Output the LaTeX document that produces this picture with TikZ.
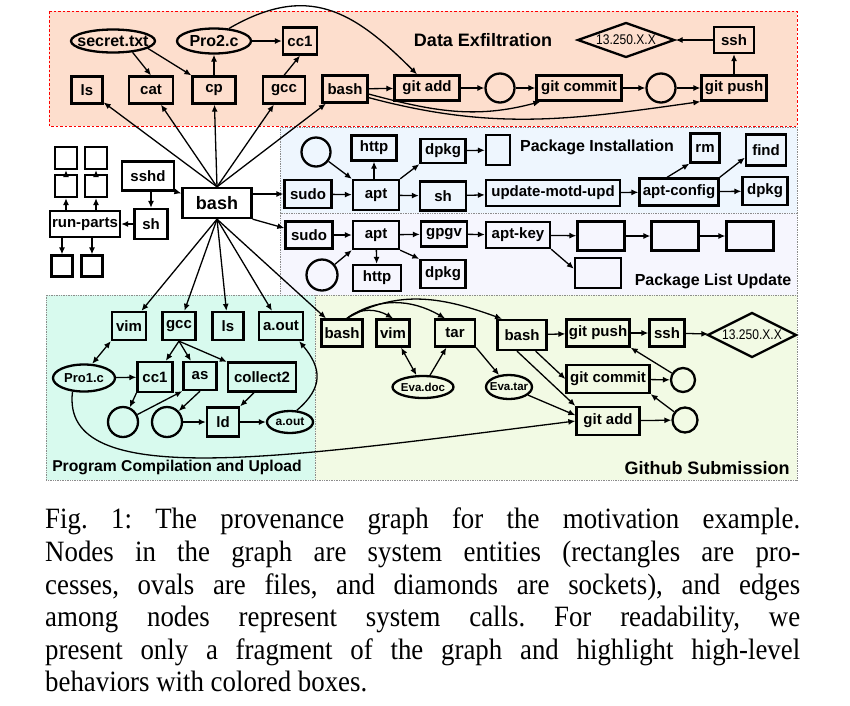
\documentclass[tikz,border=0pt]{standalone}
\usepackage{fontspec}
\setmainfont{Liberation Serif}
\newfontfamily\diagfont{Liberation Sans}
\newfontfamily\sockfont{Liberation Sans}[FakeStretch=0.86]
\newfontfamily\capfont{Liberation Serif}[FakeStretch=0.91]
\usetikzlibrary{arrows.meta,shapes.geometric}

\definecolor{exfilfill}{RGB}{253,222,205}
\definecolor{installfill}{RGB}{238,246,254}
\definecolor{updatefill}{RGB}{246,246,254}
\definecolor{compilefill}{RGB}{216,250,238}
\definecolor{githubfill}{RGB}{242,250,228}

\begin{document}
\begin{tikzpicture}[
		x=1pt, y=1pt,
		>=Latex,
		procbox/.style={
			draw,
			line width=2.3pt,
			inner sep=0pt,
			minimum width=40pt,
			minimum height=27pt,
			font=\diagfont\bfseries\fontsize{15}{15}\selectfont
		},
		filenode/.style={
			ellipse,
			draw,
			line width=2.3pt,
			inner sep=-30pt,
			font=\diagfont\bfseries\fontsize{13}{13}\selectfont
		},
		pipenode/.style={
			circle,
			draw,
			line width=2.3pt,
			minimum size=29pt,
			inner sep=0pt
		},
		socknode/.style={
			diamond,
			draw,
			line width=2.3pt,
			inner sep=-40pt,
			font=\sockfont\fontsize{14}{14}\selectfont
		},
		zonelabel/.style={
			inner sep=0pt,
			font=\diagfont\bfseries\fontsize{16}{16}\selectfont
		},
		zone/.style={
			draw=black!45,
			densely dotted,
			line width=0.7pt
		},
		link/.style={
			-{Latex[length=7pt,width=6pt]},
			line width=1.3pt
		},
		duplex/.style={
			{Latex[length=7pt,width=6pt]}-{Latex[length=7pt,width=6pt]},
			line width=1.3pt
		}
	]
		\useasboundingbox (0,0) rectangle (850,-705);

		% colored boxes
		\draw[red, dash pattern=on 2.5pt off 2pt, line width=0.9pt, fill=exfilfill] (49,-11) rectangle (797,-126);
		\draw[zone, fill=installfill] (280,-127) rectangle (797,-213);
		\draw[zone, fill=updatefill] (280,-213) rectangle (797,-295);
		\draw[zone, fill=compilefill] (46,-295) rectangle (315,-480);
		\draw[zone, fill=githubfill] (315,-295) rectangle (797,-480);

		\node[zonelabel, font=\diagfont\bfseries\fontsize{18}{18}\selectfont] (exfiltitle) at (483,-40) {Data Exfiltration};
		\node[zonelabel] (installtitle) at (597,-147) {Package Installation};
		\node[zonelabel] (updatetitle) at (713,-281) {Package List Update};
		\node[zonelabel, font=\diagfont\bfseries\fontsize{15.7}{16}\selectfont] (compiletitle) at (177,-467) {Program Compilation and Upload};
		\node[zonelabel, font=\diagfont\bfseries\fontsize{18}{18}\selectfont] (githubtitle) at (707,-468) {Github Submission};

		% data exfiltration
		\node[filenode, minimum width=84, minimum height=23, font=\diagfont\bfseries\fontsize{16}{16}\selectfont] (dsecret) at (113,-41) {secret.txt};
		\node[filenode, minimum width=74, minimum height=25, font=\diagfont\bfseries\fontsize{16}{16}\selectfont] (dpro) at (214,-41) {Pro2.c};
		\node[procbox, minimum width=34] (dcc) at (300,-41) {cc1};
		\node[procbox, minimum width=31] (dls) at (87,-90) {ls};
		\node[procbox, minimum width=44] (dcat) at (151,-90) {cat};
		\node[procbox, minimum width=43] (dcp) at (214,-90) {cp};
		\node[procbox, minimum width=42] (dgcc) at (284,-90) {gcc};
		\node[procbox, minimum width=45] (dbash) at (345,-89) {bash};
		\node[procbox, minimum width=65, minimum height=25] (dadd) at (427,-88) {git add};
		\node[pipenode] (dpipea) at (500,-88) {};
		\node[procbox, minimum width=85, minimum height=25] (dcommit) at (579,-88) {git commit};
		\node[pipenode] (dpipeb) at (661,-88) {};
		\node[procbox, minimum width=65, minimum height=25] (dpush) at (734,-88) {git push};
		\node[procbox, minimum width=40, minimum height=26] (dssh) at (734,-40) {ssh};
		\node[socknode, minimum width=97, minimum height=35] (dsock) at (626,-40) {13.250.X.X};

		% central process and its parents
		\node[procbox, minimum width=69, minimum height=30, font=\diagfont\bfseries\fontsize{18}{18}\selectfont] (bash) at (217,-203) {bash};
		\node[procbox, minimum width=52, minimum height=29] (sshd) at (148,-176) {sshd};
		\node[procbox, minimum width=33, minimum height=30] (sh) at (151,-224) {sh};
		\node[procbox, minimum width=70, minimum height=26] (runparts) at (85,-224) {run-parts};
		\node[procbox, minimum width=22, minimum height=22] (sqa) at (66,-158) {};
		\node[procbox, minimum width=22, minimum height=22] (sqb) at (96,-158) {};
		\node[procbox, minimum width=22, minimum height=22] (sqc) at (66,-186) {};
		\node[procbox, minimum width=22, minimum height=22] (sqd) at (96,-186) {};
		\node[procbox, minimum width=21, minimum height=21] (sqe) at (62,-266) {};
		\node[procbox, minimum width=21, minimum height=21] (sqf) at (92,-266) {};

		% package installation
		\node[pipenode] (icirc) at (316,-152) {};
		\node[procbox, minimum width=45, minimum height=25] (ihttp) at (374,-148) {http};
		\node[procbox, minimum width=45, minimum height=24] (idpkg) at (443,-151) {dpkg};
		\node[procbox, minimum width=24, minimum height=30] (iempty) at (498,-150) {};
		\node[procbox, minimum width=29, minimum height=29] (irm) at (705,-148) {rm};
		\node[procbox, minimum width=40, minimum height=31] (ifind) at (766,-150) {find};
		\node[procbox, minimum width=47, minimum height=28] (isudo) at (308,-194) {sudo};
		\node[procbox, minimum width=46, minimum height=30] (iapt) at (376,-195) {apt};
		\node[procbox, minimum width=46, minimum height=29] (ish) at (443,-196) {sh};
		\node[procbox, minimum width=134, minimum height=26] (imotd) at (553,-193) {update-motd-upd};
		\node[procbox, minimum width=79, minimum height=27] (iconfig) at (679,-192) {apt-config};
		\node[procbox, minimum width=45, minimum height=28] (idpkgb) at (765,-191) {dpkg};

		% package list update
		\node[procbox, minimum width=47] (lsudo) at (309,-235) {sudo};
		\node[procbox, minimum width=46, minimum height=28] (lapt) at (376,-235) {apt};
		\node[procbox, minimum width=46, minimum height=25] (lgpgv) at (444,-234) {gpgv};
		\node[procbox, minimum width=64, minimum height=26] (lkey) at (518,-235) {apt-key};
		\node[procbox, minimum width=47, minimum height=29] (lempa) at (601,-236) {};
		\node[procbox, minimum width=47, minimum height=29] (lempb) at (675,-236) {};
		\node[procbox, minimum width=47, minimum height=29] (lempc) at (750,-236) {};
		\node[procbox, minimum width=46, minimum height=30] (lempd) at (598,-273) {};
		\node[pipenode, minimum size=31] (lcirc) at (322,-275) {};
		\node[procbox, minimum width=48, minimum height=26] (lhttp) at (377,-278) {http};
		\node[procbox, minimum width=45, minimum height=28] (ldpkg) at (443,-274) {dpkg};

		% program compilation and upload
		\node[procbox, minimum width=34, minimum height=28] (pvim) at (129,-326) {vim};
		\node[procbox, minimum width=33, minimum height=28] (pgcc) at (179,-326) {gcc};
		\node[procbox, minimum width=31, minimum height=28] (pls) at (228,-326) {ls};
		\node[procbox, minimum width=44, minimum height=28] (paout) at (281,-326) {a.out};
		\node[filenode, minimum width=62, minimum height=27] (ppro) at (84,-378) {Pro1.c};
		\node[procbox, minimum width=35, minimum height=30] (pcc) at (155,-377) {cc1};
		\node[procbox, minimum width=33, minimum height=28] (pas) at (200,-376) {as};
		\node[procbox, minimum width=68, minimum height=29] (pcollect) at (262,-377) {collect2};
		\node[pipenode, minimum size=30] (pcirca) at (123,-422) {};
		\node[pipenode, minimum size=30] (pcircb) at (167,-422) {};
		\node[procbox, minimum width=32, minimum height=29] (pld) at (223,-422) {ld};
		\node[filenode, minimum width=46, minimum height=22, font=\diagfont\bfseries\fontsize{12}{12}\selectfont] (pfile) at (290,-422) {a.out};

		% github submission
		\node[procbox, minimum width=41] (gbash) at (342,-333) {bash};
		\node[procbox, minimum width=33] (gvim) at (393,-333) {vim};
		\node[procbox, minimum width=40] (gtar) at (455,-333) {tar};
		\node[procbox, minimum width=49, minimum height=30] (gbashb) at (522,-335) {bash};
		\node[procbox, minimum width=63] (gpush) at (598,-333) {git push};
		\node[procbox, minimum width=35] (gssh) at (667,-333) {ssh};
		\node[socknode, minimum width=89, minimum height=45] (gsock) at (752,-335) {13.250.X.X};
		\node[filenode, minimum width=61, minimum height=22, font=\diagfont\bfseries\fontsize{11.5}{12}\selectfont] (gdoc) at (423,-387) {Eva.doc};
		\node[filenode, minimum width=46, minimum height=24, font=\diagfont\bfseries\fontsize{11.5}{12}\selectfont] (gtarf) at (509,-387) {Eva.tar};
		\node[procbox, minimum width=83, minimum height=28] (gcommit) at (608,-379) {git commit};
		\node[pipenode, minimum size=24] (gcircc) at (683,-380) {};
		\node[procbox, minimum width=63, minimum height=28] (gadd) at (608,-421) {git add};
		\node[pipenode, minimum size=25] (gcirca) at (685,-420) {};

		% edges out of the central bash
		\foreach \n in {dls,dcat,dcp,dgcc,dbash}
			\draw[link] (bash.north) -- (\n);
		\foreach \n in {pvim,pgcc,pls,paout,gbash}
			\draw[link] (bash.south) -- (\n);
		\draw[link] (bash.east |- isudo) -- (isudo);
		\draw[link] (bash.south east) -- (lsudo);
		\draw[link] (sshd.south east) -- (bash);
		\draw[link] (sh |- sshd.south) -- (sh);
		\draw[link] (sh) -- (runparts);
		\foreach \n in {sqc,sqd}
			\draw[link] (\n |- runparts.north) -- (\n);
		\foreach \n in {sqe,sqf}
			\draw[link] (\n |- runparts.south) -- (\n);
		\draw[link] (sqc) -- (sqa);
		\draw[link] (sqd) -- (sqb);

		% data exfiltration edges
		\draw[link] (dsecret.-30) -- (dcat.north);
		\draw[link] (dsecret.-12) -- (dcp.north west);
		\foreach \a/\b in {dcp/dpro,dpro/dcc,dbash/dadd,dadd/dpipea,dpipea/dcommit,dcommit/dpipeb,dpipeb/dpush,dpush/dssh,dssh/dsock}
			\draw[link] (\a) -- (\b);
		\draw[link] (dgcc.north) -- (dcc.south);
		\draw[link] (dpro.40) to[out=30,in=135,looseness=1.2] ([xshift=-10]dadd.north);
		\draw[link] (dbash.-12) to[out=-15,in=195] ([xshift=5]dcommit.south west);
		\draw[link] (dbash.-20) to[out=-15,in=188] (dpush.south west);

		% package installation edges
		\draw[link] (icirc) -- (iapt.north west);
		\draw[link] (iapt.north east) -- (idpkg.south west);
		\draw[link] (iapt.north -| ihttp) -- (ihttp);
		\foreach \a/\b in {isudo/iapt,idpkg/iempty,iapt/ish,ish/imotd,imotd/iconfig,iconfig/idpkgb}
			\draw[link] (\a) -- (\b);
		\draw[link] ([xshift=-12]iconfig.north) -- (irm.south west);
		\draw[link] (iconfig.north east) -- (ifind.200);

		% package list update edges
		\foreach \a/\b in {lsudo/lapt,lapt/lgpgv,lgpgv/lkey,lkey/lempa,lempa/lempb,lempb/lempc}
			\draw[link] (\a) -- (\b);
		\draw[link] (lkey.south east) -- (lempd.170);
		\draw[link] (lcirc) -- (lapt.south west);
		\draw[link] (lapt) -- (lhttp);
		\draw[link] (lapt.south east) -- (ldpkg.north west);

		% program compilation edges
		\draw[duplex] (pvim.south west) -- (ppro.60);
		\foreach \n in {pcc,pas,pcollect}
			\draw[link] (pgcc.south) -- (\n);
		\foreach \a/\b in {ppro/pcc,pcircb/pld,pld/pfile}
			\draw[link] (\a) -- (\b);
		\draw[link] (pcc.south west) -- (pcirca);
		\draw[link] (pcirca) -- (pas.south west);
		\draw[link] (pas.south) -- (pcircb);
		\draw[link] ([xshift=-8]pcollect.south) -- (pld.north east);
		\draw[link] (pfile.60) to[out=40,in=-50,looseness=1.3] ([xshift=-5]paout.south east);
		\draw[link] (ppro.230) .. controls (60,-492) and (280,-458) .. (gadd.west);

		% github submission edges
		\draw[link] ([xshift=5]gbash.north) to[out=40,in=150] (gvim.north);
		\draw[link] ([xshift=5]gbash.north) to[out=35,in=150] ([xshift=-10]gtar.north);
		\draw[link] ([xshift=5]gbash.north) to[out=30,in=160] ([xshift=-20]gbashb.north);
		\draw[duplex] (gvim) -- (gdoc);
		\draw[link] (gdoc) -- (gtar);
		\draw[link] (gtar.south east) -- (gtarf);
		\draw[link] (gtarf) -- (gadd.170);
		\foreach \a/\b in {gbashb/gpush,gpush/gssh,gssh/gsock,gcommit/gcircc,gadd/gcirca}
			\draw[link] (\a) -- (\b);
		\draw[link] ([xshift=-12]gbashb.south east) -- (gcommit.west);
		\draw[link] ([xshift=-5]gbashb.south) -- (gadd.north west);
		\draw[link] (gcircc) -- (gpush.south east);
		\draw[link] (gcirca) -- (gcommit.south east);

		% caption
		\node[anchor=north west, text width=755pt, align=justify, inner sep=0pt, font=\capfont\frenchspacing\fontsize{29.5}{32.6}\selectfont] (caption) at (45,-508) {Fig.~1: The provenance graph for the motivation example.\linebreak
			Nodes in the graph are system entities (rectangles are pro-\linebreak
			cesses, ovals are files, and diamonds are sockets), and edges\linebreak
			among nodes represent system calls. For readability, we\linebreak
			present only a fragment of the graph and highlight high-level\linebreak
			behaviors with colored boxes.};
	\end{tikzpicture}
\end{document}
